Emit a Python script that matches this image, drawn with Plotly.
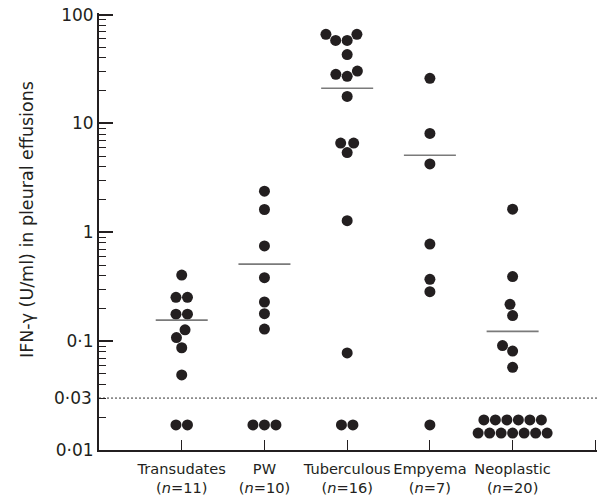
import math
import plotly.graph_objects as go

# ---------------- data ----------------
categories = ["Transudates", "PW", "Tuberculous", "Empyema", "Neoplastic"]
counts = [11, 10, 16, 7, 20]

transudates = [0.405, 0.253, 0.253, 0.177, 0.177, 0.127, 0.108, 0.087, 0.049, 0.017, 0.017]
pw = [2.39, 1.62, 0.75, 0.383, 0.229, 0.179, 0.129, 0.017, 0.017, 0.017]
tuberculous = [66, 66, 58, 58, 43, 30.3, 28.3, 27.1, 17.7, 6.6, 6.6, 5.4, 1.28, 0.078, 0.017, 0.017]
empyema = [26, 8.1, 4.25, 0.78, 0.37, 0.285, 0.017]
neoplastic = [1.63, 0.392, 0.218, 0.172, 0.091, 0.081, 0.0575,
              0.0189, 0.0189, 0.0189, 0.0189, 0.0189, 0.0189,
              0.0143, 0.0143, 0.0143, 0.0143, 0.0143, 0.0143, 0.0143]
group_lines = [0.156, 0.51, 21.1, 5.1, 0.123]   # horizontal bars drawn in each group
detection_limit = 0.03

y_tick_values = [0.01, 0.1, 1, 10, 100]
y_tick_labels = ["0·01", "0·1", "1", "10", "100"]
extra_label_value = 0.03
extra_label_text = "0·03"

groups = [transudates, pw, tuberculous, empyema, neoplastic]

# ---------------- layout / style ----------------
W, H = 602, 497
M = dict(l=99, r=5, t=13, b=47)
X_RANGE = [0, 6.02]        # a hair past 6 so the end tick is drawn
Y_RANGE = [-2, 2.015]      # log10 units, a hair past 100 so its tick is drawn
DOT = 11                   # marker diameter, px
SEP = 11.5                 # minimum centre distance in the swarm, px
INK = "#231f20"
FONT = "DejaVu Sans"

plot_w = W - M["l"] - M["r"]
plot_h = H - M["t"] - M["b"]
px_per_x = plot_w / (X_RANGE[1] - X_RANGE[0])
px_per_dec = plot_h / (Y_RANGE[1] - Y_RANGE[0])


def swarm_offsets(values):
    """Greedy beeswarm: horizontal pixel offsets so dots do not overlap."""
    n = len(values)
    ys = [math.log10(v) * px_per_dec for v in values]
    order = sorted(range(n), key=lambda i: ys[i])
    offs = [0.0] * n
    placed = []
    for i in order:
        y = ys[i]
        iv = []
        for j in placed:
            dy = abs(y - ys[j])
            if dy < SEP:
                h = math.sqrt(SEP * SEP - dy * dy)
                iv.append((offs[j] - h, offs[j] + h))
        cands = [0.0] + [a for a, _ in iv] + [b for _, b in iv]
        ok = [c for c in cands if all(not (a + 1e-6 < c < b - 1e-6) for a, b in iv)]
        bal = sum(offs[j] for j in placed)
        sgn = 1 if bal > 0 else -1
        best = min(ok, key=lambda c: (round(abs(c), 6), sgn * c))
        offs[i] = best
        placed.append(i)
    # centre rows of identical values that touch nothing else
    seen = set()
    for i in range(n):
        if values[i] in seen:
            continue
        seen.add(values[i])
        members = [k for k in range(n) if values[k] == values[i]]
        if len(members) < 2:
            continue
        isolated = all(abs(ys[i] - ys[k]) >= SEP for k in range(n) if values[k] != values[i])
        if isolated:
            m = len(members)
            for r, k in enumerate(members):
                offs[k] = (r - (m - 1) / 2) * SEP
    return offs


fig = go.Figure()

for gi, vals in enumerate(groups):
    pos = gi + 1
    offs = swarm_offsets(vals)
    fig.add_trace(go.Scatter(
        x=[pos + o / px_per_x for o in offs], y=vals, mode="markers",
        marker=dict(size=DOT, color=INK, line=dict(width=0)),
        showlegend=False, hoverinfo="y"))

HALF = 26 / px_per_x
for gi, v in enumerate(group_lines):
    pos = gi + 1
    fig.add_trace(go.Scatter(
        x=[pos - HALF, pos + HALF], y=[v, v], mode="lines",
        line=dict(color="#7a7a7a", width=1.6), showlegend=False, hoverinfo="skip"))

fig.add_trace(go.Scatter(
    x=X_RANGE, y=[detection_limit, detection_limit], mode="lines",
    line=dict(color="#333333", width=1, dash="2px,2px"),
    showlegend=False, hoverinfo="skip"))

minor_vals = [m * 10 ** k for k in range(-2, 2) for m in range(2, 10)]

tick_text = [f"{c}<br>(<i>n</i>={n})" for c, n in zip(categories, counts)] + [""]

fig.update_layout(
    width=W, height=H, margin=M,
    paper_bgcolor="white", plot_bgcolor="white",
    font=dict(family=FONT, color=INK),
    xaxis=dict(
        range=X_RANGE, tickmode="array", tickvals=[1, 2, 3, 4, 5, 6], ticktext=tick_text,
        tickangle=0, automargin=False,
        ticks="inside", ticklen=10, tickwidth=1, tickcolor=INK,
        showline=True, linewidth=2, linecolor=INK, showgrid=False, zeroline=False,
        ticklabelstandoff=4,
        tickfont=dict(size=14.6, family=FONT, color=INK), fixedrange=True),
    yaxis=dict(
        type="log", range=Y_RANGE, tickmode="array", tickvals=y_tick_values,
        ticktext=y_tick_labels, ticks="inside", ticklen=14, tickwidth=2, tickcolor=INK,
        automargin=False,
        minor=dict(ticks="inside", ticklen=7, tickwidth=1, tickcolor=INK,
                   tickmode="array", tickvals=minor_vals, showgrid=False),
        showline=True, linewidth=2, linecolor=INK, showgrid=False, zeroline=False,
        tickfont=dict(size=17, family=FONT, color=INK), fixedrange=True),
    annotations=[
        dict(text=extra_label_text, xref="paper", yref="y", x=0,
             y=math.log10(extra_label_value), xanchor="right", yanchor="middle",
             xshift=-5, showarrow=False, font=dict(size=17, family=FONT, color=INK)),
        dict(text="IFN-γ (U/ml) in pleural effusions", xref="paper", yref="paper",
             x=(27 - M["l"]) / plot_w, y=(H - M["b"] - 220) / plot_h,
             xanchor="center", yanchor="middle", textangle=-90, showarrow=False,
             font=dict(size=17.5, family=FONT, color=INK)),
    ],
)

fig.write_html("out.html")
